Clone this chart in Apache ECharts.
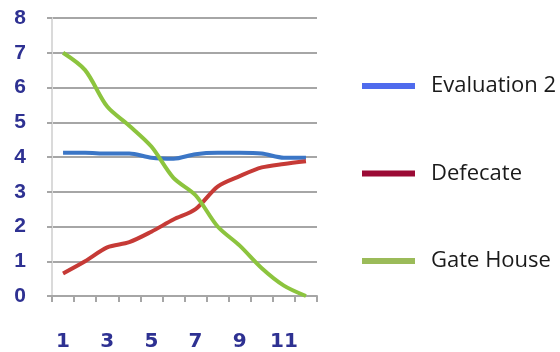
<!DOCTYPE html>
<html>
<head>
<meta charset="utf-8">
<script src="https://cdn.jsdelivr.net/npm/echarts@6/dist/echarts.min.js"></script>
<style>
  html, body { margin: 0; padding: 0; background: #ffffff; }
  #chart { width: 560px; height: 352px; }
</style>
</head>
<body>
<div id="chart"></div>
<script>
// Categories along the x axis (every other one is labelled)
const categories = ['1', '2', '3', '4', '5', '6', '7', '8', '9', '10', '11', '12'];

// Series values
const evaluation2 = [4.12, 4.12, 4.1, 4.1, 3.98, 3.95, 4.08, 4.12, 4.12, 4.1, 3.98, 3.98];
const defecate    = [0.65, 1.0, 1.4, 1.55, 1.85, 2.2, 2.5, 3.15, 3.45, 3.7, 3.8, 3.88];
const gateHouse   = [7.0, 6.5, 5.45, 4.9, 4.3, 3.4, 2.9, 2.0, 1.45, 0.8, 0.3, 0.0];

const seriesNames = ['Evaluation 2', 'Defecate', 'Gate House'];
const lineColors = ['#3b76c6', '#c63a36', '#8cc43e'];
const legendColors = ['#4f6bed', '#9b0a35', '#9bbb59'];
const seriesData = [evaluation2, defecate, gateHouse];

const axisLabelColor = '#2e3192';

const chart = echarts.init(document.getElementById('chart'), null, { renderer: 'canvas' });

chart.setOption({
  animation: false,
  backgroundColor: '#ffffff',
  grid: { left: 52, right: 243, top: 18, bottom: 54, containLabel: false },
  legend: {
    orient: 'vertical',
    left: 362,
    top: 75,
    padding: 0,
    icon: 'rect',
    itemWidth: 53,
    itemHeight: 6,
    itemGap: 65.5,
    textStyle: {
      fontFamily: 'Open Sans',
      fontSize: 22,
      lineHeight: 22,
      color: '#1a1a1a',
      padding: [0, 0, 0, 11]
    },
    data: seriesNames.map((n, i) => ({ name: n, itemStyle: { color: legendColors[i] } }))
  },
  xAxis: {
    type: 'category',
    data: categories,
    boundaryGap: true,
    axisLine: { show: true, lineStyle: { color: '#a6a6a6', width: 2 } },
    axisTick: { show: true, interval: 0, length: 6, lineStyle: { color: '#a6a6a6', width: 2 } },
    axisLabel: {
      interval: 1,
      margin: 36,
      color: axisLabelColor,
      fontFamily: 'DejaVu Sans',
      fontWeight: 'bold',
      fontSize: 20
    },
    splitLine: { show: false }
  },
  yAxis: {
    type: 'value',
    min: 0,
    max: 8,
    interval: 1,
    axisLine: { show: true, lineStyle: { color: '#dadada', width: 2 } },
    axisTick: { show: true, length: 5, lineStyle: { color: '#a6a6a6', width: 2 } },
    axisLabel: {
      margin: 26,
      color: axisLabelColor,
      fontFamily: 'Liberation Sans',
      fontWeight: 'bold',
      fontSize: 21
    },
    splitLine: { show: true, lineStyle: { color: '#a6a6a6', width: 2 } }
  },
  series: seriesNames.map((n, i) => ({
    name: n,
    type: 'line',
    data: seriesData[i],
    smooth: 0.3,
    showSymbol: false,
    symbol: 'none',
    itemStyle: { color: legendColors[i] },
    lineStyle: { color: lineColors[i], width: 4 }
  }))
});
</script>
</body>
</html>
